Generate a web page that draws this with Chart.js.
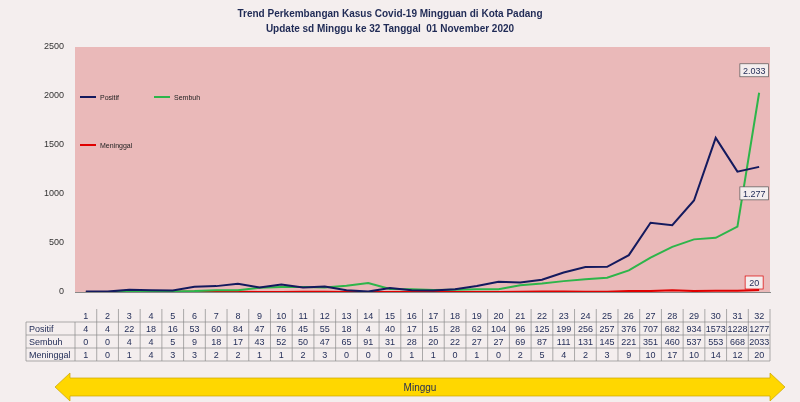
<!DOCTYPE html><html><head><meta charset="utf-8">
<script src="https://cdn.jsdelivr.net/npm/chart.js@4"></script>
<style>html,body{margin:0;padding:0;background:#f4eeee}#w{width:800px;height:402px}</style></head><body><div id="w"><canvas id="c"></canvas></div>
<script>
const weeks=[1,2,3,4,5,6,7,8,9,10,11,12,13,14,15,16,17,18,19,20,21,22,23,24,25,26,27,28,29,30,31,32];
const positif=[4,4,22,18,16,53,60,84,47,76,45,55,18,4,40,17,15,28,62,104,96,125,199,256,257,376,707,682,934,1573,1228,1277];
const sembuh=[0,0,4,4,5,9,18,17,43,52,50,47,65,91,31,28,20,22,27,27,69,87,111,131,145,221,351,460,537,553,668,2033];
const meninggal=[1,0,1,4,3,3,2,2,1,1,2,3,0,0,0,1,1,0,1,0,2,5,4,2,3,9,10,17,10,14,12,20];
const yTicks=[0,500,1000,1500,2000,2500];

const plug={id:'extra',
beforeDraw(ch){const {ctx,chartArea:a}=ch;ctx.save();ctx.fillStyle='#eab9b9';ctx.fillRect(a.left,a.top,a.right-a.left,a.bottom-a.top);ctx.restore();},
afterDraw(ch){const {ctx,chartArea:a,scales:{x}}=ch;ctx.save();
 ctx.fillStyle='#1f2a55';ctx.font='bold 10px "Liberation Sans"';ctx.textAlign='center';
 ctx.fillText('Trend Perkembangan Kasus Covid-19 Mingguan di Kota Padang',390,17);
 ctx.fillText('Update sd Minggu ke 32 Tanggal  01 November 2020',390,32);
 const rows=[['',weeks],['Positif',positif],['Sembuh',sembuh],['Meninggal',meninggal]];
 const rowY=[309,322,335,348,361];const step=x.getPixelForValue(1)-x.getPixelForValue(0);
 const left=x.getPixelForValue(0)-step/2,right=x.getPixelForValue(31)+step/2;
 ctx.strokeStyle='#8a8a8a';ctx.lineWidth=0.7;
 for(let r=1;r<5;r++){ctx.beginPath();ctx.moveTo(26,rowY[r]);ctx.lineTo(right,rowY[r]);ctx.stroke();}
 ctx.beginPath();ctx.moveTo(26,rowY[1]);ctx.lineTo(26,rowY[4]);ctx.stroke();
 for(let i=0;i<=32;i++){const px=left+i*step;ctx.beginPath();ctx.moveTo(px,i==0?rowY[1]:rowY[0]);ctx.lineTo(px,rowY[4]);ctx.stroke();}
 ctx.font='9px "Liberation Sans"';ctx.fillStyle='#1f2a55';
 rows.forEach((r,ri)=>{const cy=(rowY[ri]+rowY[ri+1])/2+3;
  ctx.textAlign='left';ctx.fillText(r[0],29,cy);ctx.textAlign='center';
  r[1].forEach((v,i)=>ctx.fillText(String(v),x.getPixelForValue(i),cy));});
 const ys=ch.scales.y;
 const box=(t,px,py)=>{ctx.font='9px "Liberation Sans"';const w=ctx.measureText(t).width+6;ctx.fillStyle='#f4eeee';ctx.fillRect(px-w/2,py-7,w,13);ctx.strokeStyle='#555';ctx.strokeRect(px-w/2,py-7,w,13);ctx.fillStyle='#1f2a55';ctx.textAlign='center';ctx.fillText(t,px,py+3);};
 const lx=x.getPixelForValue(31)-5;
 box('2.033',lx,ys.getPixelForValue(2033)-22);box('1.277',lx,ys.getPixelForValue(1277)+27);
 ctx.strokeStyle='#d00';ctx.font='9px "Liberation Sans"';const w=18;ctx.fillStyle='#f4eeee';ctx.fillRect(lx-w/2,276,w,13);ctx.strokeRect(lx-w/2,276,w,13);ctx.fillStyle='#1f2a55';ctx.fillText('20',lx,286);
 ctx.fillStyle='#ffd700';ctx.strokeStyle='#c9a400';ctx.beginPath();
 ctx.moveTo(55,387);ctx.lineTo(70,373);ctx.lineTo(70,378);ctx.lineTo(770,378);ctx.lineTo(770,373);ctx.lineTo(785,387);ctx.lineTo(770,401);ctx.lineTo(770,396);ctx.lineTo(70,396);ctx.lineTo(70,401);ctx.closePath();ctx.fill();ctx.stroke();
 ctx.fillStyle='#1f2a55';ctx.font='10px "Liberation Sans"';ctx.textAlign='center';ctx.fillText('Minggu',420,391);
 ctx.lineWidth=2;ctx.font='7px "Liberation Sans"';ctx.textAlign='left';
 [[80,97,'#141a5e','Positif'],[154,97,'#2db54a','Sembuh'],[80,145,'#e00000','Meninggal']].forEach(([lx2,ly,c,t])=>{ctx.strokeStyle=c;ctx.beginPath();ctx.moveTo(lx2,ly);ctx.lineTo(lx2+16,ly);ctx.stroke();ctx.fillStyle='#222';ctx.fillText(t,lx2+20,ly+3);});
 ctx.restore();}};

new Chart(document.getElementById('c'),{type:'line',
data:{labels:weeks,datasets:[
 {label:'Positif',data:positif,borderColor:'#141a5e',borderWidth:2,pointRadius:0,tension:0},
 {label:'Sembuh',data:sembuh,borderColor:'#2db54a',borderWidth:2,pointRadius:0,tension:0},
 {label:'Meninggal',data:meninggal,borderColor:'#e00000',borderWidth:2,pointRadius:0,tension:0}]},
options:{responsive:true,maintainAspectRatio:false,animation:false,
 layout:{padding:{top:47,bottom:102,right:30,left:10}},
 plugins:{legend:{display:false},tooltip:{enabled:false}},
 scales:{x:{offset:true,grid:{display:false},ticks:{display:false},border:{color:'#888'}},
  y:{min:0,max:2500,afterFit(s){s.width=65;},afterBuildTicks(s){s.ticks=yTicks.map(v=>({value:v}));},grid:{display:false},border:{display:false},ticks:{color:'#333',font:{size:9,family:'Liberation Sans'},callback:v=>String(v)}}}},
plugins:[plug]});
</script></body></html>
